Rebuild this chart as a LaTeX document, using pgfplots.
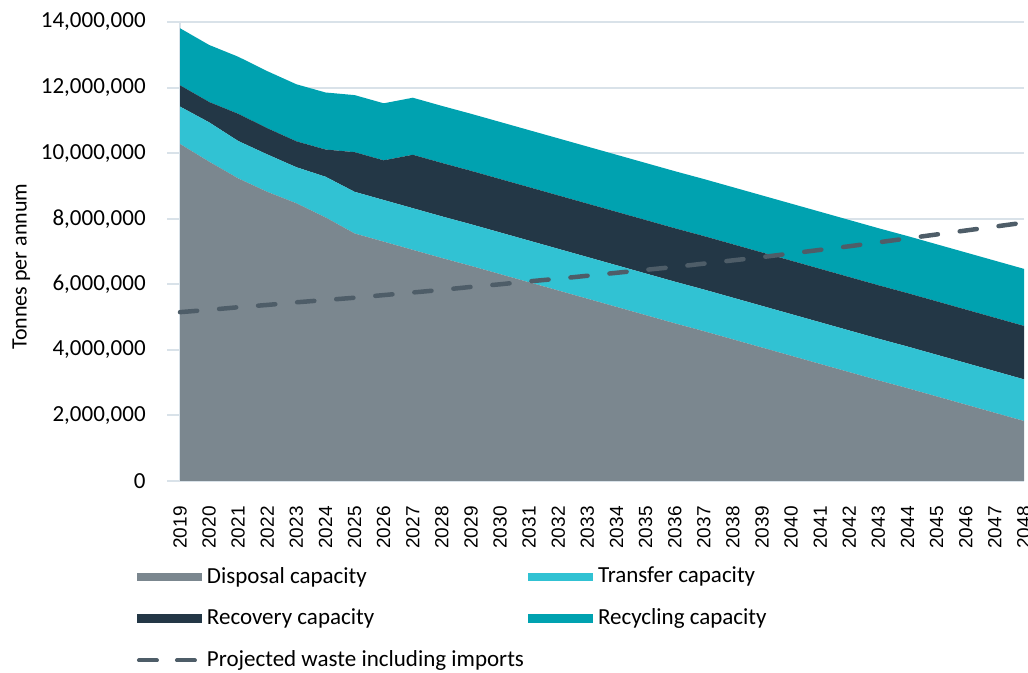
\documentclass[border=0pt]{standalone}
\usepackage{fontspec}
\setmainfont{Carlito}
\newfontfamily\arialfont{Liberation Sans}
\usepackage{pgfplots}
\usepackage{pgfplotstable}
\pgfplotsset{compat=1.18}

\definecolor{disposal}{HTML}{7B878F}
\definecolor{transfer}{HTML}{31C2D3}
\definecolor{recovery}{HTML}{233746}
\definecolor{recycling}{HTML}{00A2B0}
\definecolor{projected}{HTML}{4E5D68}
\definecolor{gridc}{HTML}{D9E2E9}

% Capacity by type (tonnes per annum) and projected waste arisings
\pgfplotstableread{
year disposal transfer recovery recycling projected
2019 10280000 1140000  650000 1740000 5150000
2020  9740000 1200000  620000 1740000 5220000
2021  9230000 1140000  830000 1740000 5300000
2022  8820000 1140000  800000 1740000 5370000
2023  8470000 1100000  790000 1740000 5450000
2024  8040000 1240000  830000 1740000 5520000
2025  7550000 1270000 1210000 1740000 5590000
2026  7300000 1270000 1210000 1740000 5670000
2027  7050000 1270000 1630000 1740000 5750000
2028  6800000 1270000 1630000 1740000 5830000
2029  6560000 1270000 1630000 1740000 5920000
2030  6310000 1270000 1630000 1740000 6000000
2031  6060000 1270000 1630000 1740000 6090000
2032  5810000 1270000 1630000 1740000 6170000
2033  5560000 1270000 1630000 1740000 6260000
2034  5310000 1270000 1630000 1740000 6350000
2035  5060000 1270000 1630000 1740000 6440000
2036  4810000 1270000 1630000 1740000 6530000
2037  4570000 1270000 1630000 1740000 6630000
2038  4320000 1270000 1630000 1740000 6730000
2039  4070000 1270000 1630000 1740000 6830000
2040  3820000 1270000 1630000 1740000 6940000
2041  3570000 1270000 1630000 1740000 7050000
2042  3320000 1270000 1630000 1740000 7160000
2043  3070000 1270000 1630000 1740000 7280000
2044  2830000 1270000 1630000 1740000 7400000
2045  2580000 1270000 1630000 1740000 7520000
2046  2330000 1270000 1630000 1740000 7640000
2047  2080000 1270000 1630000 1740000 7760000
2048  1830000 1270000 1630000 1740000 7880000
}\capacity

\begin{document}
\begin{tikzpicture}
\begin{axis}[
  set layers,
  at={(90bp,96bp)}, anchor=south west,
  width=422bp, height=229.5bp, scale only axis,
  xmin=2019, xmax=2048, ymin=0, ymax=14000000,
  enlargelimits=false,
  stack plots=y,
  axis x line*=bottom, axis y line*=left,
  axis line style={-, draw=gridc, line width=1bp},
  xtick={2019,...,2048},
  xticklabel style={font=\arialfont\fontsize{9.5bp}{11bp}\selectfont, rotate=90, anchor=east, inner sep=0pt, /pgf/number format/1000 sep={}},
  xticklabel shift=6bp,
  x tick style={draw=none},
  ytick={0,2000000,4000000,6000000,8000000,10000000,12000000,14000000},
  scaled y ticks=false,
  /pgf/number format/assume math mode=true,
  yticklabel style={font=\fontsize{11.5bp}{13bp}\selectfont, /pgf/number format/fixed, /pgf/number format/precision=0, /pgf/number format/1000 sep={,}, inner sep=0pt, anchor=east},
  yticklabel shift=10.5bp,
  tick align=outside, major tick length=6.5bp,
  y tick style={draw=gridc, line width=1bp},
  ymajorgrids, grid style={draw=gridc, line width=1bp},
  ylabel={Tonnes per annum},
  every axis y label/.style={at={(axis description cs:-0.188,0.467)}, rotate=90, anchor=center, font=\fontsize{11bp}{13bp}\selectfont},
  legend columns=2,
  legend cell align=left,
  legend style={at={(axis description cs:-0.051,-0.1875)}, anchor=north west, draw=none, fill=none, inner sep=0pt, outer sep=0pt, row sep=11.5bp, font=\fontsize{11.5bp}{13bp}\selectfont, nodes={inner sep=0pt},
    /tikz/every odd column/.append style={column sep=2.5bp},
    /tikz/every even column/.append style={column sep=2bp}},
]
\addplot[fill=disposal, draw=none, legend image code/.code={\fill (0bp,-2bp) rectangle (32.5bp,2bp);}]
  table[x=year, y=disposal]{\capacity} \closedcycle;
\addlegendentry{Disposal capacity}
\addplot[fill=transfer, draw=none, legend image code/.code={\fill (0bp,-2bp) rectangle (32.5bp,2bp);}]
  table[x=year, y=transfer]{\capacity} \closedcycle;
\addlegendentry{Transfer capacity}
\addplot[fill=recovery, draw=none, legend image code/.code={\fill (0bp,-2bp) rectangle (32.5bp,2bp);}]
  table[x=year, y=recovery]{\capacity} \closedcycle;
\addlegendentry{Recovery capacity}
\addplot[fill=recycling, draw=none, legend image code/.code={\fill (0bp,-2bp) rectangle (32.5bp,2bp);}]
  table[x=year, y=recycling]{\capacity} \closedcycle;
\addlegendentry{Recycling capacity}
% projected arisings are drawn over the stacked capacity areas
\addplot[stack plots=false, on layer=axis foreground, draw=projected, line width=2.25bp, line cap=round, dash pattern=on 8.6bp off 11bp,
  legend image code/.code={\draw[line width=2bp, line cap=round, dash pattern=on 9bp off 10bp] (1bp,0bp) -- (31bp,0bp);}]
  table[x=year, y=projected]{\capacity};
\addlegendentry{Projected waste including imports}
\end{axis}
\pgfresetboundingbox
\path (0bp,0bp) rectangle (514bp,336.5bp);
\end{tikzpicture}
\end{document}
